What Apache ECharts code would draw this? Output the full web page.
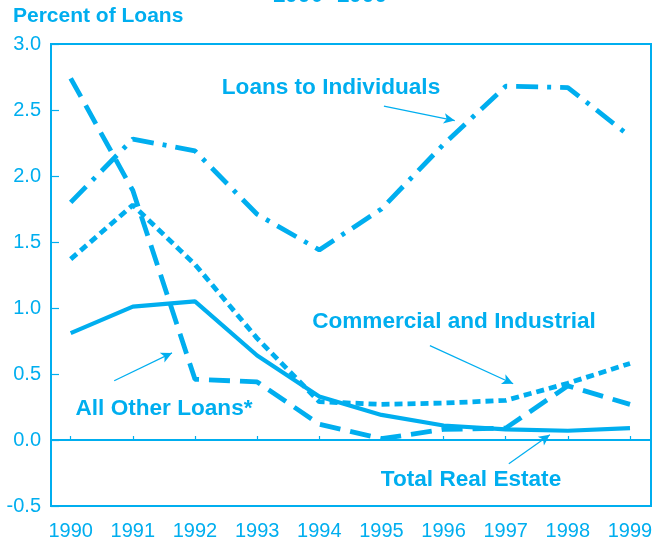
<!DOCTYPE html>
<html>
<head>
<meta charset="utf-8">
<script src="https://cdn.jsdelivr.net/npm/echarts@6/dist/echarts.min.js"></script>
<style>
html,body{margin:0;padding:0;background:#fff;}
#chart{width:663px;height:537px;}
</style>
</head>
<body>
<div id="chart"></div>
<script>
// ---- Data ----
const years = [1990, 1991, 1992, 1993, 1994, 1995, 1996, 1997, 1998, 1999];
const totalRealEstate = [0.81, 1.01, 1.05, 0.64, 0.33, 0.19, 0.11, 0.08, 0.07, 0.09];
const commercialIndustrial = [1.37, 1.78, 1.33, 0.77, 0.29, 0.27, 0.28, 0.30, 0.43, 0.58];
const allOtherLoans = [2.74, 1.89, 0.46, 0.44, 0.12, 0.01, 0.08, 0.09, 0.41, 0.27];
const loansToIndividuals = [1.80, 2.28, 2.19, 1.71, 1.44, 1.75, 2.24, 2.68, 2.67, 2.30];
const yTicks = [-0.5, 0, 0.5, 1.0, 1.5, 2.0, 2.5, 3.0];

const BLUE = '#00aeef';
const FONT = '"Liberation Sans", Arial, sans-serif';

function pairs(vals) { return years.map((y, i) => [y, vals[i]]); }

function arrow(from, to) {
  return {
    silent: true,
    symbol: ['none', 'arrow'],
    symbolSize: [8, 11],
    label: { show: false },
    lineStyle: { color: BLUE, width: 1.2, type: 'solid' },
    data: [[{ coord: from }, { coord: to }]]
  };
}

const chart = echarts.init(document.getElementById('chart'), null, { renderer: 'canvas' });

const option = {
  animation: false,
  backgroundColor: '#ffffff',
  grid: {
    left: 51, right: 12, top: 44, bottom: 31,
    outerBoundsMode: 'none',
    containLabel: false,
    show: true, borderColor: BLUE, borderWidth: 2, backgroundColor: 'transparent'
  },
  xAxis: {
    type: 'value',
    min: 1989.683,
    max: 1999.338,
    axisLine: { show: true, lineStyle: { color: BLUE, width: 2 } },
    axisTick: { show: true, inside: true, length: 4, customValues: years, lineStyle: { color: BLUE, width: 1.2 } },
    axisLabel: { show: true, customValues: years, formatter: v => String(Math.round(v)), color: BLUE, fontFamily: FONT, fontSize: 20, margin: 15 },
    splitLine: { show: false }
  },
  yAxis: {
    type: 'value',
    min: -0.5,
    max: 3.0,
    interval: 0.5,
    axisLine: { show: true, lineStyle: { color: BLUE, width: 2 } },
    axisTick: { show: true, inside: true, length: 8, lineStyle: { color: BLUE, width: 1.2 } },
    axisLabel: { color: BLUE, fontFamily: FONT, fontSize: 20, margin: 10, formatter: v => v.toFixed(1) },
    splitLine: { show: false }
  },
  series: [
    {
      name: 'Total Real Estate', type: 'line', data: pairs(totalRealEstate),
      showSymbol: false, lineStyle: { color: BLUE, width: 4.2, type: 'solid' },
      markLine: {
        silent: true, symbol: ['none', 'none'], label: { show: false },
        lineStyle: { color: BLUE, width: 1.5, type: 'solid' },
        data: [{ yAxis: 0 }]
      }
    },
    {
      name: 'Commercial and Industrial', type: 'line', data: pairs(commercialIndustrial),
      showSymbol: false, lineStyle: { color: BLUE, width: 4.8, type: [8, 5] },
      markLine: arrow([1995.78, 0.715], [1997.12, 0.426])
    },
    {
      name: 'All Other Loans*', type: 'line', data: pairs(allOtherLoans),
      showSymbol: false, lineStyle: { color: BLUE, width: 4.8, type: [21, 10] },
      markLine: arrow([1990.70, 0.449], [1991.63, 0.66])
    },
    {
      name: 'Loans to Individuals', type: 'line', data: pairs(loansToIndividuals),
      showSymbol: false, lineStyle: { color: BLUE, width: 4.8, type: [22, 9, 4, 9] },
      markLine: arrow([1995.04, 2.53], [1996.18, 2.42])
    },
    {
      name: 'TRE arrow', type: 'line', data: [],
      markLine: arrow([1997.05, -0.18], [1997.71, 0.04])
    }
  ],
  graphic: [
    { type: 'text', left: 13, top: 6, style: { text: 'Percent of Loans', fill: BLUE, font: 'bold 21px ' + FONT } },
    { type: 'text', x: 330, y: 7, style: { text: '1990–1999', fill: BLUE, font: 'bold 23px ' + FONT, textAlign: 'center', textVerticalAlign: 'bottom' } },
    { type: 'text', x: 331, y: 88, style: { text: 'Loans to Individuals', fill: BLUE, font: 'bold 22.6px ' + FONT, textAlign: 'center', textVerticalAlign: 'middle' } },
    { type: 'text', x: 454, y: 322, style: { text: 'Commercial and Industrial', fill: BLUE, font: 'bold 22.6px ' + FONT, textAlign: 'center', textVerticalAlign: 'middle' } },
    { type: 'text', x: 164, y: 409, style: { text: 'All Other Loans*', fill: BLUE, font: 'bold 22.6px ' + FONT, textAlign: 'center', textVerticalAlign: 'middle' } },
    { type: 'text', x: 471, y: 480, style: { text: 'Total Real Estate', fill: BLUE, font: 'bold 22.6px ' + FONT, textAlign: 'center', textVerticalAlign: 'middle' } }
  ]
};

chart.setOption(option);
</script>
</body>
</html>
